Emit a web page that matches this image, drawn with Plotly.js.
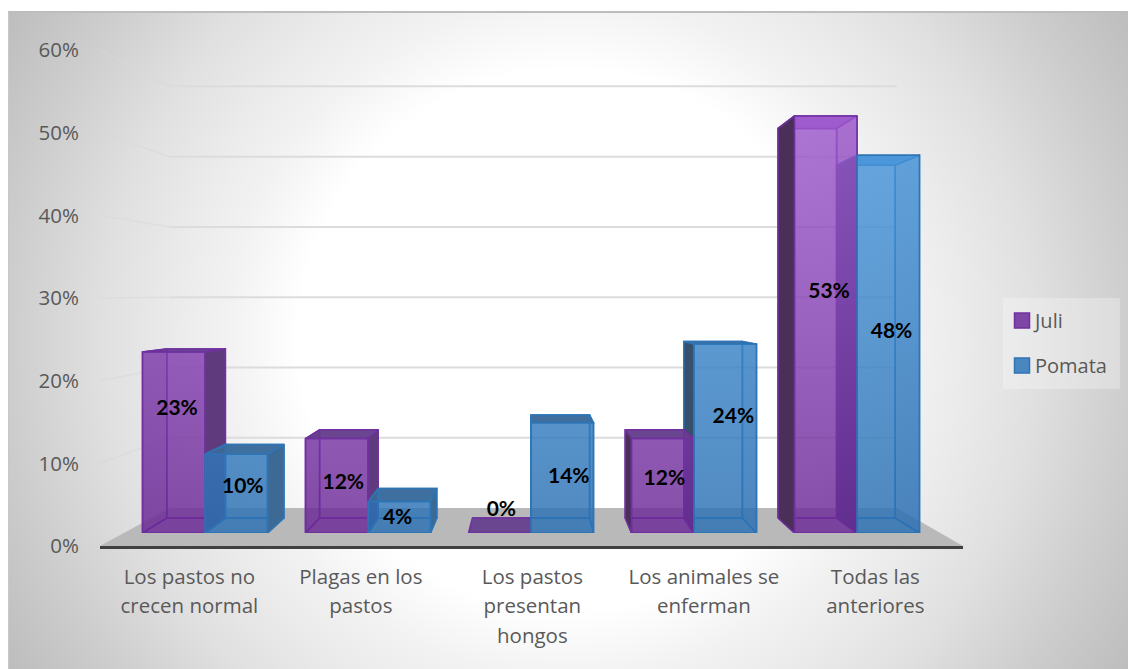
<!DOCTYPE html>
<html>
<head>
<meta charset="utf-8">
<script src="https://cdn.plot.ly/plotly-3.0.1.min.js"></script>
<style>
  html, body { margin: 0; padding: 0; background: #fff; overflow: hidden; }
  #panel {
    position: absolute; left: 8px; top: 11px; width: 1120px; height: 658px;
    border-top: 2px solid #bdbdbd; border-left: 1px solid #c8c8c8; box-sizing: border-box;
    background: radial-gradient(circle at 560px 327px,
      #ffffff 0px, #ffffff 270px, #f2f2f2 340px, #ebebeb 393px, #e0e0e0 467px, #cdcdcd 562px, #bdbdbd 650px);
  }
  #chart { position: absolute; left: 0; top: 0; width: 1128px; height: 669px; }
</style>
</head>
<body>
<div id="panel"></div>
<div id="chart"></div>
<script>
// Survey results for the two districts, in percent
const categories = [
  'Los pastos no<br>crecen normal',
  'Plagas en los<br>pastos',
  'Los pastos<br>presentan<br>hongos',
  'Los animales se<br>enferman',
  'Todas las<br>anteriores'
];
const juli = [23, 12, 0, 12, 53];
const pomata = [10, 4, 14, 24, 48];
const valueTicks = [0, 10, 20, 30, 40, 50, 60];

// Page geometry, in pixels
const W = 1128, H = 669;
const hFrac = (a, b) => [a / W, b / W];
const vFrac = (bottom, top) => [(H - bottom) / H, (H - top) / H];

// Front plane of the bars: 7.87 px per percent, baseline at 533
const frontScale = 7.87, frontBase = 533;
// Bar width in category units
const barW = 0.3834;
// Perspective from the front plane of a bar to its rear plane
const rearX = x => 2 + (x - 2) * 0.9375;
const rearV = v => 1.906 + v * 0.934;
// Perspective from the axis plane to the rear wall of the chart
const wallX = x => 2.01 + (x - 2) * 0.8424;
const wallV = v => 4.6 + v * 0.85;

const palette = {
  Juli: {
    edge: '#7030a0', swatch: '#7f47a5',
    low: '#6a2896', high: '#9d58cd',
    left: '#4a3058', right: '#5f3b7e', top: '#6a4590', under: '#a96fd3'
  },
  Pomata: {
    edge: '#2e75b6', swatch: '#4a86c0',
    low: '#2a70b3', high: '#4997dd',
    left: '#36506e', right: '#3d6a94', top: '#3f6f9e', under: '#66a8e0'
  }
};

const traces = [];

// Floor and rear wall
const poly = (x, y, fill, xa, ya) => ({
  type: 'scatter', mode: 'lines', x, y, fill: 'toself', fillcolor: fill,
  line: { width: 0 }, hoverinfo: 'skip', showlegend: false, xaxis: xa, yaxis: ya
});
traces.push(poly(
  [-0.5, 4.5, wallX(4.5), wallX(-0.5), -0.5],
  [0, 0, wallV(0), wallV(0), 0],
  '#b9b9b9', 'x', 'y'
));
valueTicks.slice(1).forEach(v => {
  traces.push({
    type: 'scatter', mode: 'lines',
    x: [-0.5, wallX(-0.5)], y: [v, wallV(v)],
    line: { color: 'rgba(216,216,216,0.6)', width: 1.5 },
    hoverinfo: 'skip', showlegend: false, xaxis: 'x', yaxis: 'y'
  });
  traces.push({
    type: 'scatter', mode: 'lines',
    x: [wallX(-0.5), wallX(4.5)], y: [wallV(v), wallV(v)],
    line: { color: '#dcdcdc', width: 2 },
    hoverinfo: 'skip', showlegend: false, xaxis: 'x', yaxis: 'y'
  });
});

// Translucent depth faces of one bar; the front face is a real bar trace on top
function depthFaces(cat, slot, v, style) {
  const x0 = cat + (slot - 1) * barW, x1 = cat + slot * barW;
  const rx0 = rearX(x0), rx1 = rearX(x1), rb = rearV(0), rt = rearV(v);
  const face = (xs, ys, fill) => ({
    type: 'scatter', mode: 'lines', x: xs.concat(xs[0]), y: ys.concat(ys[0]),
    fill: fill ? 'toself' : 'none', fillcolor: fill || undefined,
    line: { color: style.edge, width: 1.5 },
    hoverinfo: 'skip', showlegend: false, xaxis: 'x2', yaxis: 'y2'
  });
  const faces = [];
  // rear and bottom outlines
  faces.push(face([rx0, rx1, rx1, rx0], [rb, rb, rt, rt], null));
  faces.push(face([x0, x1, rx1, rx0], [0, 0, rb, rb], v === 0 ? style.top : null));
  // top, seen from below once it rises past eye level
  if (v > 0) {
    faces.push(face([x0, x1, rx1, rx0], [v, v, rt, rt], rt < v ? style.under : style.top));
  }
  // sides only read as solid where they stick out from behind the front
  if (v > 0) {
    const leftOut = rx0 < x0, rightOut = rx1 > x1;
    faces.push(face([x0, rx0, rx0, x0], [0, rb, rt, v], leftOut ? style.left : 'rgba(60,40,80,0.1)'));
    faces.push(face([x1, rx1, rx1, x1], [0, rb, rt, v], rightOut ? style.right : 'rgba(60,40,80,0.1)'));
  }
  return faces;
}

// Nearer bar is painted last, so the order flips past the middle of the chart
categories.forEach((_, c) => {
  const a = depthFaces(c, 0, juli[c], palette.Juli);
  const b = depthFaces(c, 1, pomata[c], palette.Pomata);
  (c < 2 ? a.concat(b) : b.concat(a)).forEach(t => traces.push(t));
});

// Front faces
const catIndex = categories.map((_, i) => i);
[['Juli', juli], ['Pomata', pomata]].forEach(([name, vals]) => {
  traces.push({
    type: 'bar', name, x: catIndex, y: vals, xaxis: 'x3', yaxis: 'y3',
    marker: { color: palette[name].swatch, line: { color: palette[name].edge, width: 1.5 } },
    legendgroup: name, hoverinfo: 'skip'
  });
});

// Value labels sit at hand-tuned spots inside the bars (dx in category units, lift in percent)
const labelDx = [[0.02, 0.04], [0.04, -0.01], [0.01, 0.04], [0.01, 0.05], [0.02, 0.02]];
const labelLift = [[15.7, 5.7], [6.3, 1.8], [2.8, 7.0], [6.8, 14.6], [30.5, 25.4]];
[[juli, 0], [pomata, 1]].forEach(([vals, slot]) => {
  traces.push({
    type: 'scatter', mode: 'text',
    x: vals.map((_, c) => c + (slot - 0.5) * barW + labelDx[c][slot]),
    y: vals.map((_, c) => labelLift[c][slot]),
    text: vals.map(v => v + '%'),
    textposition: 'middle center',
    textfont: { family: 'Lato, sans-serif', size: 21, color: '#000', weight: 700 },
    hoverinfo: 'skip', showlegend: false, cliponaxis: false, xaxis: 'x3', yaxis: 'y3'
  });
});

const hiddenAxis = {
  visible: false, showgrid: false, zeroline: false, fixedrange: true
};
const textFont = { family: '"Open Sans", sans-serif', size: 20.5, color: '#595959' };

const layout = {
  width: W, height: H,
  margin: { l: 0, r: 0, t: 0, b: 0 },
  paper_bgcolor: 'rgba(0,0,0,0)',
  plot_bgcolor: 'rgba(0,0,0,0)',
  barmode: 'group', bargap: 0.233, bargroupgap: 0,
  showlegend: true,
  legend: {
    x: 1003 / W, y: (H - 298) / H, xanchor: 'left', yanchor: 'top',
    bgcolor: 'rgba(255,255,255,0.28)', borderwidth: 0,
    font: { family: textFont.family, size: 20, color: '#595959' },
    tracegroupgap: 16, itemclick: false, itemdoubleclick: false
  },
  xaxis: {
    domain: hFrac(100, 963), range: [-0.5, 4.5], type: 'linear',
    tickmode: 'array', tickvals: catIndex.map(i => 2.005 + (i - 2) * 0.9936), ticktext: categories,
    showgrid: false, zeroline: false, showline: true, linecolor: '#404040', linewidth: 3,
    ticks: '', tickfont: textFont, ticklabelstandoff: 10, fixedrange: true, anchor: 'y'
  },
  yaxis: {
    domain: vFrac(546, 50), range: [0, 60],
    tickmode: 'array', tickvals: valueTicks, ticktext: valueTicks.map(v => v + '%'),
    showgrid: false, zeroline: false, showline: false,
    ticks: '', tickfont: textFont, ticklabelstandoff: 20, fixedrange: true, anchor: 'x'
  },
  xaxis2: Object.assign({}, hiddenAxis, {
    domain: hFrac(123.5, 938.5), range: [-0.5, 4.5], anchor: 'y2'
  }),
  yaxis2: Object.assign({}, hiddenAxis, {
    domain: vFrac(frontBase, frontBase - 60 * frontScale), range: [0, 60], anchor: 'x2'
  }),
  xaxis3: Object.assign({}, hiddenAxis, {
    domain: hFrac(123.5, 938.5), range: [-0.5, 4.5], anchor: 'y3'
  }),
  yaxis3: Object.assign({}, hiddenAxis, {
    domain: vFrac(frontBase, frontBase - 60 * frontScale), range: [0, 60], anchor: 'x3'
  })
};

Plotly.newPlot('chart', traces, layout, { displayModeBar: false, staticPlot: true }).then(gd => {
  const svg = gd.querySelector('svg.main-svg');
  const ya = gd._fullLayout.yaxis3;
  const ns = 'http://www.w3.org/2000/svg';
  const defs = svg.querySelector('defs');

  // Front faces brighten with height
  const makeGradient = (id, low, high) => {
    const g = document.createElementNS(ns, 'linearGradient');
    g.setAttribute('id', id);
    g.setAttribute('gradientUnits', 'userSpaceOnUse');
    g.setAttribute('x1', 0); g.setAttribute('x2', 0);
    g.setAttribute('y1', ya.l2p(0)); g.setAttribute('y2', ya.l2p(53));
    [[0, low], [1, high]].forEach(([o, c]) => {
      const s = document.createElementNS(ns, 'stop');
      s.setAttribute('offset', o); s.setAttribute('stop-color', c);
      g.appendChild(s);
    });
    defs.appendChild(g);
  };
  makeGradient('faceJuli', palette.Juli.low, palette.Juli.high);
  makeGradient('facePomata', palette.Pomata.low, palette.Pomata.high);
  const ids = ['faceJuli', 'facePomata'];
  gd.querySelectorAll('.barlayer .trace.bars').forEach((tr, i) => {
    tr.querySelectorAll('.point path').forEach(p => {
      p.style.fill = 'url(#' + ids[i] + ')';
      p.style.fillOpacity = 0.82;
    });
  });

  // Wider line spacing on the wrapped category labels
  gd.querySelectorAll('.xtick text tspan.line').forEach(t => {
    const dy = parseFloat(t.getAttribute('dy')) || 0;
    t.setAttribute('dy', (dy / 1.3 * 1.44) + 'em');
  });

  // Larger legend swatches, tucked closer to their text, in a slightly taller box
  gd.querySelectorAll('.legend .traces').forEach(item => {
    const txt = item.querySelector('.legendtext');
    if (txt) txt.setAttribute('x', 32);
    item.querySelectorAll('.legendpoints path').forEach(p => {
      p.setAttribute('d', 'M7.5,7.5H-7.5V-7.5H7.5Z');
      p.setAttribute('transform', 'translate(19,0)');
    });
  });
  const legendBox = gd.querySelector('.legend .bg');
  if (legendBox) legendBox.setAttribute('height', 91);
  const legendClip = svg.querySelector('defs clipPath[id^="legend"] rect');
  if (legendClip) legendClip.setAttribute('height', 91);
  const legendRows = gd.querySelector('.legend .scrollbox');
  if (legendRows) legendRows.setAttribute('transform', 'translate(0,3)');
});
</script>
</body>
</html>
